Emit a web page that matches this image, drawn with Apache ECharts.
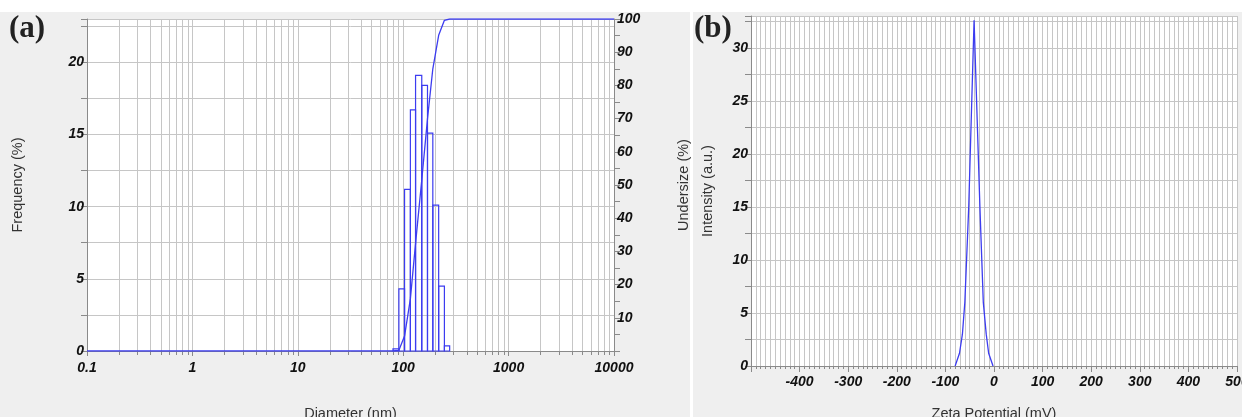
<!DOCTYPE html>
<html>
<head>
<meta charset="utf-8">
<title>DLS size and zeta potential</title>
<script src="https://cdn.jsdelivr.net/npm/echarts@6/dist/echarts.min.js"></script>
<style>
  html, body { margin: 0; padding: 0; background: #fff; }
  #chart { width: 1242px; height: 417px; }
</style>
</head>
<body>
<div id="chart"></div>
<script>
// (a) size distribution, bins in nm
const binLow = [80, 91, 103, 117, 131, 150, 170, 191, 217, 246];
const binHigh = [91, 103, 117, 131, 150, 170, 191, 217, 246, 276];
const frequency = [0.15, 4.3, 11.2, 16.7, 19.1, 18.4, 15.1, 10.1, 4.5, 0.35];
const undersizeDiameter = [0.1, 80, 91, 103, 117, 131, 150, 170, 191, 217, 246, 276, 10000];
const undersize = [0, 0, 0.2, 4.5, 15.7, 32.4, 51.5, 69.9, 85, 95.1, 99.6, 100, 100];
const decadeLabels = [0.1, 1, 10, 100, 1000, 10000];
const minorSteps = [2, 3, 4, 5, 6, 7, 8, 9];

// (b) zeta potential
const zetaMv = [-80, -71, -65, -60, -52, -41, -29, -22, -16, -11, -2];
const intensity = [0, 1.2, 3, 6, 15, 32.6, 15, 6, 3, 1.2, 0];

const BLUE = "#3c3cf0";
const GRID_LINE = "#c6c6c6";
const AXIS_LINE = "#8a8a8a";
const FREQ_MAX = 23;
const INT_MAX = 33;

const tickFont = {
  fontFamily: "Liberation Sans",
  fontWeight: "bold",
  fontStyle: "italic",
  fontSize: 14,
  color: "#111",
};
const nameFont = {
  fontFamily: "Liberation Sans",
  fontSize: 14.5,
  color: "#333",
};

// minor decade gridlines 0.2 .. 9000
var logMinor = [];
decadeLabels.slice(0, -1).forEach(function (d) {
  minorSteps.forEach(function (m) {
    logMinor.push([+(d * m).toPrecision(3)]);
  });
});

var bins = binLow.map(function (lo, i) {
  return [lo, binHigh[i], frequency[i]];
});
var undersizeData = undersizeDiameter.map(function (d, i) {
  return [d, undersize[i]];
});
var zetaData = zetaMv.map(function (v, i) {
  return [v, intensity[i]];
});

var myChart = echarts.init(document.getElementById("chart"));
myChart.setOption({
  animation: false,
  backgroundColor: "#ffffff",
  graphic: [
    { type: "rect", shape: { x: 0, y: 12, width: 690, height: 405 }, style: { fill: "#efefef" }, z: -10 },
    { type: "rect", shape: { x: 693, y: 12, width: 549, height: 405 }, style: { fill: "#efefef" }, z: -10 },
    {
      type: "text", left: 9, top: 13, z: 10,
      style: { text: "(a)", font: "bold 31px 'Liberation Serif'", fill: "#222" },
    },
    {
      type: "text", left: 694, top: 13, z: 10,
      style: { text: "(b)", font: "bold 31px 'Liberation Serif'", fill: "#222" },
    },
  ],
  grid: [
    {
      left: 87, right: 628, top: 19, bottom: 66,
      containLabel: false, outerBoundsMode: "none",
      show: true, backgroundColor: "#fff", borderWidth: 0,
    },
    {
      left: 751, right: 5, top: 16, bottom: 51,
      containLabel: false, outerBoundsMode: "none",
      show: true, backgroundColor: "#fff", borderWidth: 0,
    },
  ],
  xAxis: [
    {
      type: "log",
      logBase: 10,
      gridIndex: 0,
      min: 0.1,
      max: 10000,
      name: "Diameter (nm)",
      nameLocation: "middle",
      nameGap: 55,
      nameTextStyle: nameFont,
      axisLine: { onZero: false, lineStyle: { color: AXIS_LINE } },
      axisTick: { length: 5, lineStyle: { color: AXIS_LINE } },
      axisLabel: Object.assign({}, tickFont, {
        margin: 10,
        formatter: function (v) { return String(+v.toPrecision(3)); },
      }),
      splitLine: { show: true, lineStyle: { color: GRID_LINE } },
    },
    {
      type: "value",
      gridIndex: 1,
      min: -500,
      max: 500,
      interval: 100,
      name: "Zeta Potential (mV)",
      nameLocation: "middle",
      nameGap: 40,
      nameTextStyle: nameFont,
      axisLine: { onZero: false, lineStyle: { color: AXIS_LINE } },
      axisTick: { length: 6, lineStyle: { color: AXIS_LINE } },
      minorTick: { show: true, splitNumber: 10, length: 3, lineStyle: { color: AXIS_LINE } },
      minorSplitLine: { show: true, lineStyle: { color: GRID_LINE } },
      splitLine: { show: true, lineStyle: { color: GRID_LINE } },
      axisLabel: Object.assign({}, tickFont, {
        margin: 9,
        formatter: function (v) { return v === -500 ? "" : String(v); },
      }),
    },
  ],
  yAxis: [
    {
      type: "value",
      gridIndex: 0,
      min: 0,
      max: FREQ_MAX,
      interval: 2.5,
      name: "Frequency (%)",
      nameLocation: "middle",
      nameGap: 62,
      nameTextStyle: nameFont,
      axisLine: { show: true, onZero: false, lineStyle: { color: AXIS_LINE } },
      axisTick: { show: true, length: 6, lineStyle: { color: AXIS_LINE } },
      axisLabel: Object.assign({}, tickFont, {
        margin: 3,
        formatter: function (v) { return v % 5 === 0 ? String(v) : ""; },
      }),
      splitLine: { show: true, lineStyle: { color: GRID_LINE } },
    },
    {
      type: "value",
      gridIndex: 0,
      position: "right",
      min: 0,
      max: 100,
      interval: 5,
      name: "Undersize (%)",
      nameLocation: "middle",
      nameGap: 62,
      nameRotate: 90,
      nameTextStyle: nameFont,
      axisLine: { show: true, onZero: false, lineStyle: { color: AXIS_LINE } },
      axisTick: { show: true, length: 6, lineStyle: { color: AXIS_LINE } },
      axisLabel: Object.assign({}, tickFont, {
        margin: 3,
        formatter: function (v) { return v % 10 === 0 && v > 0 ? String(v) : ""; },
      }),
      splitLine: { show: false },
    },
    {
      type: "value",
      gridIndex: 1,
      min: 0,
      max: INT_MAX,
      interval: 2.5,
      name: "Intensity (a.u.)",
      nameLocation: "middle",
      nameGap: 36,
      nameTextStyle: nameFont,
      axisLine: { show: true, onZero: false, lineStyle: { color: AXIS_LINE } },
      axisTick: { show: true, length: 6, lineStyle: { color: AXIS_LINE } },
      axisLabel: Object.assign({}, tickFont, {
        margin: 3,
        formatter: function (v) { return v % 5 === 0 ? String(v) : ""; },
      }),
      splitLine: { show: true, lineStyle: { color: GRID_LINE } },
    },
  ],
  series: [
    {
      // 2..9 gridlines and their small ticks on the log axis
      name: "logMinor",
      type: "custom",
      xAxisIndex: 0,
      yAxisIndex: 0,
      silent: true,
      z: 1,
      data: logMinor,
      renderItem: function (params, api) {
        var x = api.value(0);
        var top = api.coord([x, FREQ_MAX]);
        var bot = api.coord([x, 0]);
        var px = Math.round(bot[0]) + 0.5;
        return {
          type: "group",
          children: [
            { type: "line", shape: { x1: px, y1: top[1], x2: px, y2: bot[1] }, style: { stroke: GRID_LINE, lineWidth: 1 } },
            { type: "line", shape: { x1: px, y1: bot[1], x2: px, y2: bot[1] + 4 }, style: { stroke: AXIS_LINE, lineWidth: 1 } },
          ],
        };
      },
    },
    {
      name: "Frequency",
      type: "custom",
      xAxisIndex: 0,
      yAxisIndex: 0,
      z: 3,
      data: bins,
      encode: { x: [0, 1], y: 2 },
      renderItem: function (params, api) {
        var p0 = api.coord([api.value(0), api.value(2)]);
        var p1 = api.coord([api.value(1), 0]);
        return {
          type: "rect",
          shape: { x: p0[0], y: p0[1], width: p1[0] - p0[0], height: p1[1] - p0[1] },
          style: { fill: "rgba(255,255,255,0)", stroke: BLUE, lineWidth: 1.2 },
        };
      },
    },
    {
      name: "Undersize",
      type: "line",
      xAxisIndex: 0,
      yAxisIndex: 1,
      z: 4,
      data: undersizeData,
      showSymbol: false,
      lineStyle: { color: BLUE, width: 1.3 },
    },
    {
      name: "Intensity",
      type: "line",
      xAxisIndex: 1,
      yAxisIndex: 2,
      z: 4,
      data: zetaData,
      showSymbol: false,
      lineStyle: { color: BLUE, width: 1.3 },
    },
  ],
});

window.onresize = function () {
  myChart.resize();
};
</script>
</body>
</html>
